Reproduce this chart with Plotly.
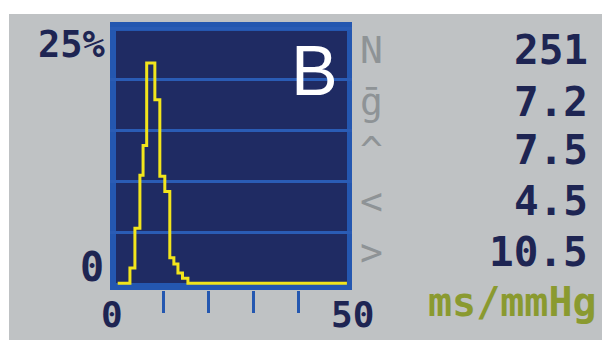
import plotly.graph_objects as go

# ---- data ----
bin_edges = [0, 2.7, 3.8, 4.9, 5.6, 6.4, 8.2, 9.3, 10.4, 11.5, 12.4, 13.3, 14.3, 15.5, 50.6]
percent = [0, 1.5, 5.4, 10.6, 13.5, 21.6, 18.0, 10.5, 9.0, 2.5, 1.9, 1.0, 0.5, 0]
x_ticks = [10, 20, 30, 40]
y_grid = [5, 10, 15, 20, 25]
stat_symbols = ["N", "ḡ", "^", "<", ">"]
stat_values = ["251", "7.2", "7.5", "4.5", "10.5"]
unit_label = "ms/mmHg"
panel_label = "B"

W, H = 602, 340
def fx(p): return p / W
def fy(p): return 1 - p / H

# pixel geometry
X0PX, XS = 117.7, 4.53     # x=0 pixel, px per unit
Y0PX, YS = 283.3, 10.2     # y=0 pixel, px per percent
FL, FR, FT, FB = 110, 352, 22, 290   # outer frame

NAVY = "#1f2b63"
FRAME = "#2457b0"
GRID = "#2a5cb5"
GREY = "#bfc2c4"
YELLOW = "#f2e51c"
TXT = "#1e2553"
SYM = "#8e9396"
OLIVE = "#8a9a30"
MONO = "DejaVu Sans Mono"

fig = go.Figure()
fig.add_trace(go.Scatter(
    x=bin_edges, y=percent + [percent[-1]],
    mode="lines", line=dict(shape="hv", color=YELLOW, width=3),
    hoverinfo="skip", showlegend=False))

shapes = [
    dict(type="rect", xref="paper", yref="paper", x0=fx(9), x1=1, y0=0, y1=fy(14),
         fillcolor=GREY, line_width=0, layer="below"),
    dict(type="rect", xref="paper", yref="paper", x0=fx(FL), x1=fx(FR), y0=fy(FB), y1=fy(FT),
         fillcolor=FRAME, line_width=0, layer="below"),
    dict(type="rect", xref="paper", yref="paper", x0=fx(116), x1=fx(347), y0=fy(283), y1=fy(31),
         fillcolor=NAVY, line_width=0, layer="below"),
]

ann = []
def add(text, x, y, xa, ya, size, color, family=MONO):
    ann.append(dict(text=text, x=fx(x), y=fy(y), xref="paper", yref="paper",
                    xanchor=xa, yanchor=ya, showarrow=False,
                    font=dict(family=family, size=size, color=color)))

def b(t): return "<b>" + t + "</b>"

rows = [50, 102, 150, 201, 252]
for s, v, r in zip(stat_symbols, stat_values, rows):
    add(s, 371, r, "center", "middle", 38, SYM)
    add(b(v), 590, r, "right", "middle", 41, TXT)
add(b(unit_label), 599, 302, "right", "middle", 40, OLIVE)
add(b("25%"), 108, 45, "right", "middle", 37, TXT)
add(b("0"), 106, 267, "right", "middle", 40, TXT)
add(b("0"), 112, 314, "center", "middle", 36, TXT)
add(b("50"), 352, 314, "center", "middle", 36, TXT)
add(panel_label, 314, 71, "center", "middle", 70, "white", "Liberation Sans")

fig.update_layout(
    width=W, height=H, margin=dict(l=0, r=0, t=0, b=0),
    paper_bgcolor="white", plot_bgcolor=FRAME,
    shapes=shapes, annotations=ann,
    xaxis=dict(domain=[fx(FL), fx(FR)],
               range=[(FL - X0PX) / XS, (FR - X0PX) / XS],
               tickvals=x_ticks, ticks="outside", ticklen=22, tickwidth=3,
               tickcolor=FRAME, showticklabels=False, showgrid=False,
               zeroline=False, showline=False, fixedrange=True),
    yaxis=dict(domain=[fy(FB), fy(FT)],
               range=[(Y0PX - FB) / YS, (Y0PX - FT) / YS],
               tickvals=y_grid, showticklabels=False, showgrid=True,
               gridcolor=GRID, gridwidth=3, zeroline=False, showline=False,
               ticks="", fixedrange=True),
)
fig.write_html("out.html")
